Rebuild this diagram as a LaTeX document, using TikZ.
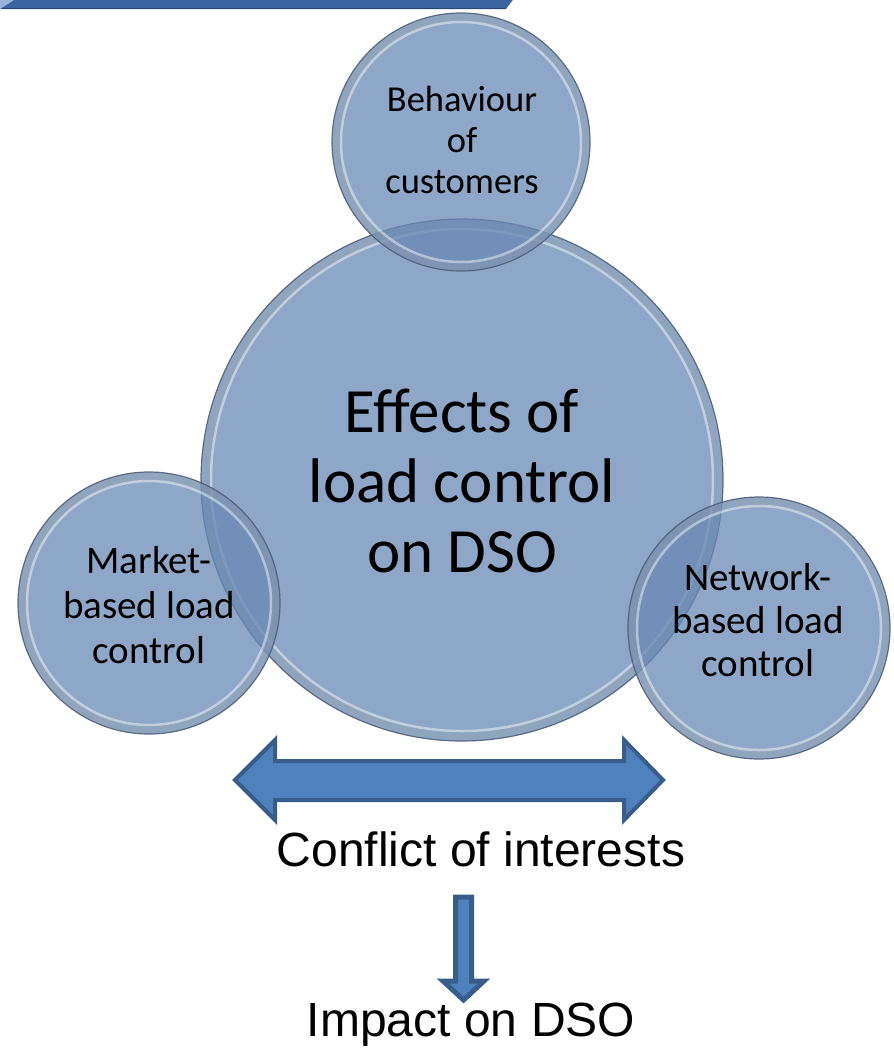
\documentclass[tikz,border=0pt]{standalone}
\usepackage{fontspec}
\setmainfont{Liberation Sans}
\newfontfamily\bubblefont{Carlito}
\definecolor{bubblefill}{RGB}{104,136,180}
\definecolor{bubbleedge}{RGB}{80,96,120}
\definecolor{bubbleband}{RGB}{150,160,175}
\definecolor{arrowfill}{RGB}{79,129,189}
\definecolor{arrowedge}{RGB}{56,93,138}
\definecolor{bannerfill}{RGB}{58,100,158}
\definecolor{banneredge}{RGB}{40,70,112}
\definecolor{bannerlight}{RGB}{150,180,215}
\begin{document}
\begin{tikzpicture}[x=1pt,y=-1pt,
  bubble/.style={fill=bubblefill,fill opacity=0.75,
    draw=bubbleedge,line width=1.2pt,draw opacity=0.9},
  band/.style={draw=bubbleband,draw opacity=0.35,line width=7pt},
  rim/.style={draw=white,draw opacity=0.45,line width=2.5pt},
  blockarrow/.style={fill=arrowfill,draw=arrowedge,line join=miter},
  bubbletext/.style={align=center,text=black,inner sep=0pt},
  caption/.style={text=black,inner sep=0pt,font=\fontsize{48}{56}\selectfont}]
\useasboundingbox (0,0) rectangle (894,1053);
\clip (0,0) rectangle (894,1053);

% banner running off the top edge
\fill[bannerfill] (-5,-20) -- (528,-20) -- (506,9) -- (0,9) -- cycle;
\draw[banneredge,line width=1.5pt] (2,8.5) -- (506,8.5);
\fill[bannerlight] (0,9) -- (14,0) -- (0,0) -- cycle;

% bubbles: translucent disc, greyish outer band, bright inner highlight
\path[bubble] (462,480) circle[radius=261pt];
\path[band] (462,480) circle[radius=256pt];
\path[rim] (462,480) circle[radius=251pt];
\path[bubble] (461,142) circle[radius=129pt];
\path[band] (461,142) circle[radius=124.5pt];
\path[rim] (461,142) circle[radius=120pt];
\path[bubble] (149,603) circle[radius=131pt];
\path[band] (149,603) circle[radius=126.5pt];
\path[rim] (149,603) circle[radius=122pt];
\path[bubble] (759,628) circle[radius=131pt];
\path[band] (759,628) circle[radius=126.5pt];
\path[rim] (759,628) circle[radius=122pt];

\node[bubbletext,font=\bubblefont\fontsize{36.5}{41}\selectfont] (beh) at (462,140) {Behaviour\\of\\customers};
\node[bubbletext,font=\bubblefont\fontsize{63}{70}\selectfont] (eff) at (462,481) {Effects of\\load control\\on DSO};
\node[bubbletext,font=\bubblefont\fontsize{39}{45}\selectfont] (mkt) at (149,605) {Market-\\based load\\control};
\node[bubbletext,font=\bubblefont\fontsize{39}{43}\selectfont] (net) at (758,620) {Network-\\based load\\control};

% two-headed arrow
\draw[blockarrow,line width=4pt] (235,780) -- (275,740) -- (275,761) -- (624,761) -- (624,740)
  -- (663,780) -- (624,820) -- (624,800) -- (275,800) -- (275,820) -- cycle;

\node[caption,anchor=base] (conf) at (481,866) {Conflict of interests};

% downward arrow
\draw[blockarrow,line width=5pt] (455.5,897) -- (471.5,897) -- (471.5,981) -- (484,981)
  -- (463.5,1000) -- (443,981) -- (455.5,981) -- cycle;

\node[caption,anchor=base] (imp) at (471,1036) {Impact on DSO};
\end{tikzpicture}
\end{document}
